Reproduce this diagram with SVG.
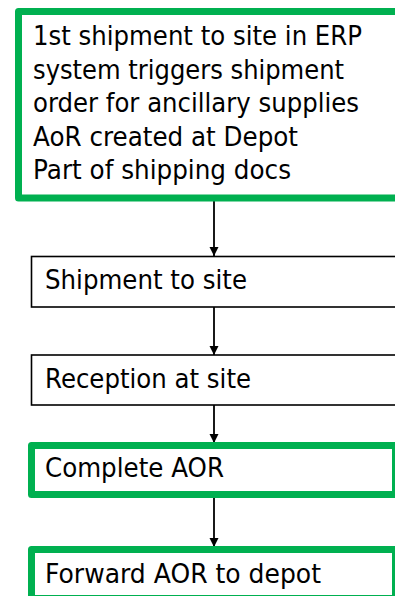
<svg xmlns="http://www.w3.org/2000/svg" width="395" height="596" viewBox="0 0 395 596">
<style>
  .green { fill: #ffffff; stroke: #00B050; stroke-width: 7; stroke-linejoin: round; }
  .plain { fill: #ffffff; stroke: #000000; stroke-width: 1.6; }
  .lbl { font-family: "DejaVu Sans", Verdana, sans-serif; font-size: 26px; fill: #000000; }
  .conn { stroke: #000000; stroke-width: 1.8; fill: none; marker-end: url(#arrow); }
</style>
<defs>
  <marker id="arrow" markerWidth="9" markerHeight="10" refX="9" refY="5" orient="auto" markerUnits="userSpaceOnUse">
    <path d="M0,0.5 L9,5 L0,9.5 Z" fill="#000000"/>
  </marker>
</defs>
<rect width="395" height="596" fill="#ffffff"/>
<g id="connectors">
  <line class="conn" x1="214" y1="201" x2="214" y2="256"/>
  <line class="conn" x1="214" y1="307" x2="214" y2="355"/>
  <line class="conn" x1="214" y1="405" x2="214" y2="443"/>
  <line class="conn" x1="214" y1="498" x2="214" y2="547"/>
</g>
<g id="n1">
  <rect class="green" x="18.5" y="11.5" width="400" height="186.5"/>
  <text class="lbl" x="33" y="45" textLength="329" lengthAdjust="spacingAndGlyphs">1st shipment to site in ERP</text>
  <text class="lbl" x="33" y="78.5" textLength="311" lengthAdjust="spacingAndGlyphs">system triggers shipment</text>
  <text class="lbl" x="33" y="112" textLength="326" lengthAdjust="spacingAndGlyphs">order for ancillary supplies</text>
  <text class="lbl" x="33" y="145.5" textLength="265" lengthAdjust="spacingAndGlyphs">AoR created at Depot</text>
  <text class="lbl" x="33" y="179" textLength="258" lengthAdjust="spacingAndGlyphs">Part of shipping docs</text>
</g>
<g id="n2">
  <rect class="plain" x="31.5" y="256.5" width="380" height="50.5"/>
  <text class="lbl" x="45" y="289.3" textLength="202" lengthAdjust="spacingAndGlyphs">Shipment to site</text>
</g>
<g id="n3">
  <rect class="plain" x="31.5" y="355" width="380" height="50"/>
  <text class="lbl" x="45" y="388.3" textLength="206" lengthAdjust="spacingAndGlyphs">Reception at site</text>
</g>
<g id="n4">
  <rect class="green" x="31.5" y="445.5" width="364" height="49"/>
  <text class="lbl" x="45" y="477.3" textLength="179" lengthAdjust="spacingAndGlyphs">Complete AOR</text>
</g>
<g id="n5">
  <rect class="green" x="31.5" y="549.5" width="364" height="49"/>
  <text class="lbl" x="45" y="582.7" textLength="276" lengthAdjust="spacingAndGlyphs">Forward AOR to depot</text>
</g>
</svg>
